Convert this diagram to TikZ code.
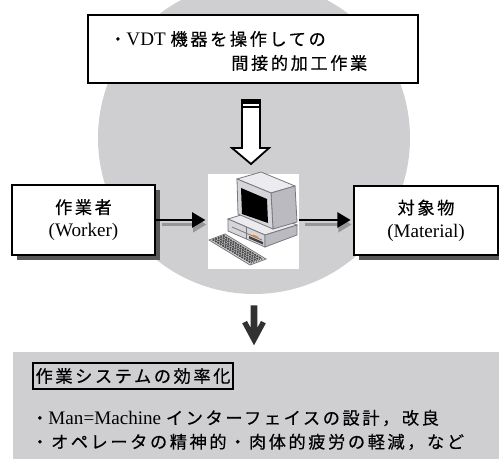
\documentclass[tikz,border=0pt]{standalone}
\usepackage{fontspec}
\setmainfont{Liberation Serif}
\newfontfamily\jpfont[Scale=0.9,LetterSpace=15,FakeBold=0.4]{Noto Sans CJK JP}
\newcommand{\jp}[1]{{\jpfont #1}}
\usetikzlibrary{arrows.meta,shadows}

\definecolor{fieldgray}{RGB}{207,207,210}
\definecolor{shadegray}{RGB}{88,88,88}
\definecolor{trailgray}{RGB}{150,150,150}
\definecolor{arrowdark}{RGB}{50,50,50}
\definecolor{pcedge}{RGB}{120,120,125}
\definecolor{pctop}{RGB}{236,236,240}
\definecolor{pcfront}{RGB}{214,214,218}
\definecolor{pcside}{RGB}{186,186,192}

\tikzset{
	unitbox/.style={draw, line width=0.5mm, fill=white, align=center, inner sep=0pt,
			font=\fontsize{13.6}{16.4}\selectfont,
			drop shadow={shadow xshift=1.25mm, shadow yshift=-1.25mm, fill=shadegray, opacity=1}},
	flow/.style={line width=0.5mm, -{Triangle[length=3.3mm,width=3.8mm]}, shorten >=0.6mm},
	flowtrail/.style={trailgray, line width=0.75mm, -{Triangle[length=3.3mm,width=3.8mm]}, shorten >=0.6mm, shorten <=1.2mm},
	keyrow/.style={line width=0.45mm, draw=black!70, dash pattern=on 0.5mm off 0.2mm},
}

\begin{document}
\begin{tikzpicture}[x=0.25mm, y=-0.25mm]
	\useasboundingbox (0,0) rectangle (499,459);

	% grey field behind the work system
	\node[circle, fill=fieldgray, minimum size=78mm, inner sep=0pt] (field) at (254,138) {};

	% task description
	\node[draw, line width=0.5mm, fill=white, minimum width=82.5mm, minimum height=17mm] (task) at (253,49) {};
	\node[anchor=west, inner sep=0pt, font=\fontsize{13.6}{16}\selectfont] (taskA) at (109,39) {\jp{・}VDT \jp{機器を操作しての}};
	\node[anchor=west, inner sep=0pt, font=\fontsize{13.6}{16}\selectfont] (taskB) at (231,63) {\jp{間接的加工作業}};

	% worker, machine, material
	\node[unitbox, minimum width=35.75mm, minimum height=17.5mm] (worker) at (83.5,220) {\jp{作業者}\\(Worker)};
	\node[unitbox, minimum width=36mm, minimum height=17.25mm] (material) at (426,220.5) {\jp{対象物}\\(Material)};
	\node[fill=white, minimum width=22.75mm, minimum height=23.75mm, inner sep=0pt] (comp) at (253.5,221.5) {};

	% computer
	\begin{scope}[line width=0.2mm, draw=pcedge]
		\filldraw[fill=pctop] (228,219) -- (260,209) -- (297,225) -- (265,235) -- cycle;
		\filldraw[fill=pcfront] (228,219) -- (265,235) -- (265,247) -- (228,231) -- cycle;
		\filldraw[fill=pcside] (265,235) -- (297,225) -- (297,235) -- (265,247) -- cycle;
		\draw (246,227) -- (246,239);
		\draw (232,227) -- (262,240);
		\fill[black!75] (249,236) -- (263,242) -- (263,244.5) -- (249,238.5) -- cycle;
		\fill[orange] (253,234.5) -- (258,236.7) -- (258,238.2) -- (253,236) -- cycle;
		% monitor
		\filldraw[fill=pctop] (237,179) -- (261,172) -- (295,186) -- (271,193) -- cycle;
		\filldraw[fill=pcside] (271,193) -- (295,186) -- (297,222) -- (273,229) -- cycle;
		\filldraw[fill=pcfront] (237,179) -- (271,193) -- (273,229) -- (238,214) -- cycle;
		\fill[black] (241,188) -- (267,199) -- (268,223) -- (242,214) -- cycle;
		% keyboard
		\filldraw[fill=pcfront] (209,240) -- (225,234) -- (266,259) -- (250,265) -- cycle;
		\foreach \k in {1,...,5}
		\draw[keyrow] ({210+2.6*\k},{240.5-1*\k}) -- ({249+2.6*\k},{264-1*\k});
	\end{scope}

	% flow of the work
	\coordinate (wIn) at (worker.east -| comp.west);
	\coordinate (mOut) at (worker.east -| comp.east);
	\coordinate (mIn) at (worker.east -| material.west);
	\draw[flowtrail] ([shift={(1,4.5)}]worker.east) -- ([shift={(1,4.5)}]wIn);
	\draw[flow] (worker.east) -- (wIn);
	\draw[flowtrail] ([shift={(1,4.5)}]mOut) -- ([shift={(1,4.5)}]mIn);
	\draw[flow] (mOut) -- (mIn);

	% hollow arrow from the task to the machine
	\begin{scope}[shift={(task.south)}]
		\filldraw[fill=white, line width=0.45mm, line join=miter]
		(-11,16) -- (-11,64) -- (-21,64) -- (-2,80) -- (16,64) -- (7,64) -- (7,16) -- cycle;
		\fill (-11,16) rectangle (7,19.5);
		\fill (-11,21.5) rectangle (7,24);
	\end{scope}

	% result
	\node[fill=fieldgray, anchor=north west, minimum width=121.5mm, minimum height=26.75mm, inner sep=0pt] (effect) at (13,352) {};
	\begin{scope}[shift={(field.south)}]
		\fill[arrowdark] (-3.3,11) -- (3.3,11) -- (3.3,33.6) -- (7,26.7) -- (11.8,29) -- (0,51)
		-- (-11.8,29) -- (-7,26.7) -- (-3.3,33.6) -- cycle;
	\end{scope}
	\node[draw, line width=0.35mm, minimum width=50mm, minimum height=6.5mm, inner sep=0pt,
		font=\fontsize{13.6}{16}\selectfont] (goal) at (133,376) {\jp{作業システムの効率化}};
	\node[anchor=west, align=left, inner sep=0pt, font=\fontsize{13.6}{17}\selectfont] (means) at (31,430)
	{\jp{・}Man=Machine \jp{インターフェイスの設計，改良}\\\jp{・オペレータの精神的・肉体的疲労の軽減，など}};
\end{tikzpicture}
\end{document}
